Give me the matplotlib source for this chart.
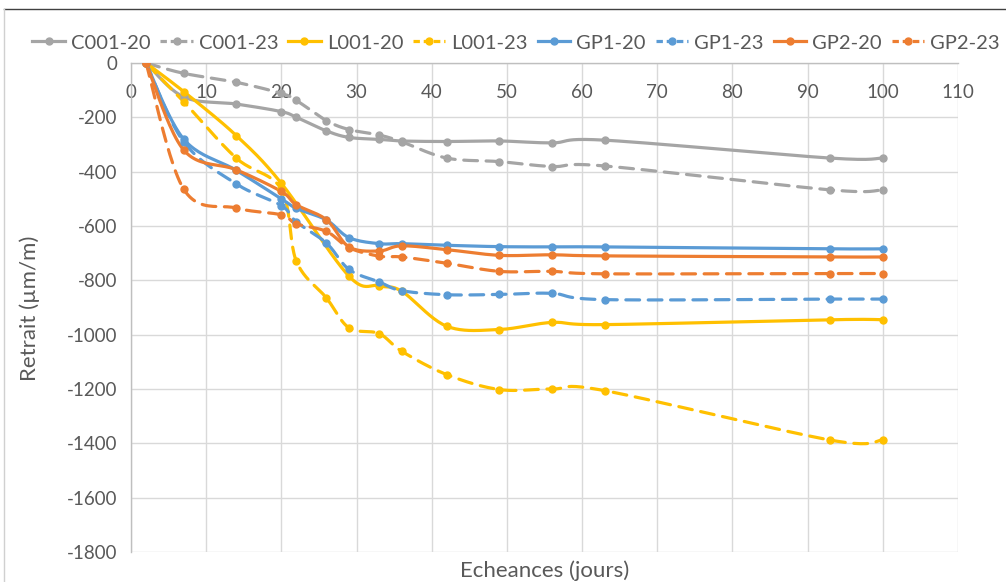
import matplotlib
matplotlib.use("Agg")
import matplotlib.pyplot as plt
import numpy as np

plt.rcParams["font.family"] = ["Lato", "DejaVu Sans"]

# days of measurement
days = [2, 7, 14, 20, 22, 26, 29, 33, 36, 42, 49, 56, 63, 93, 100]
days_l20 = [2, 7, 14, 20, 29, 33, 36, 42, 49, 56, 63, 93, 100]

c001_20 = [0, -125, -151, -179, -200, -250, -274, -281, -287, -289, -287, -294, -284, -350, -350]
c001_23 = [0, -38, -71, -112, -138, -212, -245, -265, -290, -350, -363, -381, -379, -467, -467]
l001_20 = [0, -105, -267, -443, -785, -820, -840, -969, -981, -955, -963, -945, -945]
l001_23 = [0, -142, -350, -465, -730, -865, -975, -996, -1061, -1147, -1202, -1200, -1206, -1388, -1388]
gp1_20 = [0, -280, -395, -500, -535, -578, -643, -665, -665, -671, -676, -677, -677, -684, -684]
gp1_23 = [0, -290, -445, -525, -585, -663, -760, -806, -838, -853, -852, -848, -871, -869, -869]
gp2_20 = [0, -320, -393, -473, -522, -577, -677, -692, -673, -687, -708, -706, -710, -714, -714]
gp2_23 = [0, -464, -534, -559, -592, -620, -680, -711, -714, -737, -767, -767, -776, -775, -775]

series = [
    ("C001-20", days, c001_20, "#A5A5A5", "-"),
    ("C001-23", days, c001_23, "#A5A5A5", "--"),
    ("L001-20", days_l20, l001_20, "#FFC000", "-"),
    ("L001-23", days, l001_23, "#FFC000", "--"),
    ("GP1-20", days, gp1_20, "#5B9BD5", "-"),
    ("GP1-23", days, gp1_23, "#5B9BD5", "--"),
    ("GP2-20", days, gp2_20, "#ED7D31", "-"),
    ("GP2-23", days, gp2_23, "#ED7D31", "--"),
]

txt = "#595959"


def smooth(x, y, n=24):
    # excel-like smoothed line (bezier through the points)
    pts = np.column_stack([x, y]).astype(float)
    P = np.vstack([pts[0], pts, pts[-1]])
    t = np.linspace(0, 1, n)[:, None]
    out = []
    for i in range(1, len(P) - 2):
        p0, p1, p2, p3 = P[i - 1], P[i], P[i + 1], P[i + 2]
        c1 = p1 + (p2 - p0) / 6
        c2 = p2 - (p3 - p1) / 6
        seg = (1 - t) ** 3 * p1 + 3 * (1 - t) ** 2 * t * c1 + 3 * (1 - t) * t ** 2 * c2 + t ** 3 * p2
        out.append(seg)
    out = np.vstack(out)
    return out[:, 0], out[:, 1]


fig = plt.figure(figsize=(10.06, 5.82), dpi=100)
ax = fig.add_axes([131 / 1006, 1 - 552 / 582, (958 - 131) / 1006, (552 - 63) / 582])

handles = []
for name, x, y, col, ls in series:
    sx, sy = smooth(x, y)
    line, = ax.plot(sx, sy, color=col, lw=2.3, solid_capstyle="round",
                    dash_capstyle="round", zorder=3)
    if ls == "--":
        line.set_dashes((4.3, 2.7))
    ax.plot(x, y, "o", color=col, ms=5, zorder=4)
    h, = ax.plot([], [], color=col, lw=2.3, marker="o", ms=5, ls=ls)
    if ls == "--":
        h.set_dashes((2.0, 1.2))
    h.set_label(name)
    handles.append(h)

ax.set_xlim(0, 110)
ax.set_ylim(-1800, 0)
ax.set_xticks(np.arange(0, 111, 10))
ax.set_yticks(np.arange(-1800, 1, 200))
ax.set_yticklabels([str(v) for v in np.arange(-1800, 1, 200)])

ax.grid(True, color="#D9D9D9", lw=1.0, zorder=0)
ax.set_axisbelow(True)
for s in ["top", "right"]:
    ax.spines[s].set_visible(False)
ax.spines["bottom"].set_position(("data", 0))
ax.spines["bottom"].set_color("#BFBFBF")
ax.spines["left"].set_color("#BFBFBF")
ax.spines["left"].set_linewidth(1.0)
ax.spines["bottom"].set_linewidth(1.0)
ax.tick_params(axis="both", length=0, labelsize=13.5, colors=txt)
ax.tick_params(axis="x", pad=15)
ax.tick_params(axis="y", pad=9.5)

fig.text(545 / 1006, 1 - 571 / 582, "Echeances (jours)", ha="center", va="center",
         fontsize=16, color=txt)
fig.text(30 / 1006, 1 - 308 / 582, "Retrait (µm/m)", ha="center", va="center",
         rotation=90, fontsize=16, color=txt)

fig.legend(handles=handles, loc="center", bbox_to_anchor=(516 / 1006, 1 - 43 / 582),
           ncol=8, frameon=False, fontsize=14.5, handlelength=1.6, handletextpad=0.3,
           columnspacing=0.5, labelcolor=txt)

# chart border
fig.add_artist(plt.Line2D([4 / 1006, 1], [1 - 9 / 582, 1 - 9 / 582], color="#404040", lw=1.0))
fig.add_artist(plt.Line2D([4 / 1006, 4 / 1006], [0, 1 - 9 / 582], color="#D0D0D0", lw=1.0))

fig.savefig("out.png", dpi=100)
